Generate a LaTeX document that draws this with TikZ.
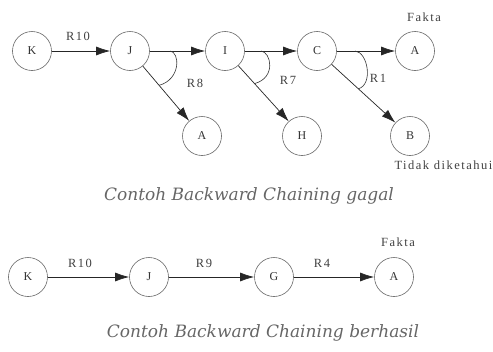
\documentclass[tikz,border=0pt]{standalone}
\usepackage{fontspec}
\setmainfont{Liberation Serif}
\newfontfamily\lblfont[LetterSpace=12]{Liberation Serif}
\newfontfamily\capfont{DejaVu Serif}
\usetikzlibrary{arrows.meta,calc}
\begin{document}
\begin{tikzpicture}[x=1pt,y=-1pt,
  state/.style={circle,draw=black!60,line width=0.6pt,minimum size=39pt,inner sep=0pt,font=\lblfont\fontsize{12}{12}\selectfont,text=black!80},
  link/.style={draw=black!85,line width=0.7pt,-{Latex[length=14pt,width=9pt]}},
  rule/.style={font=\lblfont\fontsize{12.5}{12.5}\selectfont,text=black!75},
  angle/.style={draw=black!80,line width=0.6pt},
  caption/.style={font=\capfont\itshape\fontsize{17}{17}\selectfont,text=black!60}]
\useasboundingbox (0,0) rectangle (493,351);

% failed chain
\node[state] (k1) at (32,51) {K};
\node[state] (j1) at (130,51) {J};
\node[state] (i1) at (225,51) {I};
\node[state] (c1) at (317,51) {C};
\node[state] (a1) at (415,51) {A};
\node[state] (a2) at (202,136) {A};
\node[state] (h1) at (302,136) {H};
\node[state] (b1) at (410,136) {B};

\draw[link] (k1) -- (j1);
\draw[link] (j1) -- (i1);
\draw[link] (i1) -- (c1);
\draw[link] (c1) -- (a1);
\draw[link] (j1) -- (a2);
\draw[link] (i1) -- (h1);
\draw[link] (c1) -- (b1);

% angle marks joining the two branches of each rule
\draw[angle] ($(j1)+(40,0)$) .. controls +(10,1) and +(22,-6) .. ($(j1)!45pt!(a2)$);
\draw[angle] ($(i1)+(36,0)$) .. controls +(10,1) and +(22,-6) .. ($(i1)!44pt!(h1)$);
\draw[angle] ($(c1)+(38,0)$) .. controls +(13,1) and +(15,-4) .. ($(c1)!56pt!(b1)$);

\node[rule] (r10a) at (78,36) {R10};
\node[rule] (r8) at (195,83) {R8};
\node[rule] (r7) at (288,80) {R7};
\node[rule] (r1) at (378,78) {R1};
\node[rule] (fakta1) at (424,17) {Fakta};
\node[rule,anchor=west] (tidak) at (391,165) {Tidak diketahui};

\node[caption] (cap1) at (249,196) {Contoh Backward Chaining gagal};

% successful chain
\node[state] (k2) at (28,277) {K};
\node[state] (j2) at (149,277) {J};
\node[state] (g2) at (274,277) {G};
\node[state] (a3) at (394,277) {A};

\draw[link] (k2) -- (j2);
\draw[link] (j2) -- (g2);
\draw[link] (g2) -- (a3);

\node[rule] (r10b) at (80,263) {R10};
\node[rule] (r9) at (204,263) {R9};
\node[rule] (r4) at (322,263) {R4};
\node[rule] (fakta2) at (398,242) {Fakta};

\node[caption] (cap2) at (263,333) {Contoh Backward Chaining berhasil};
\end{tikzpicture}
\end{document}
